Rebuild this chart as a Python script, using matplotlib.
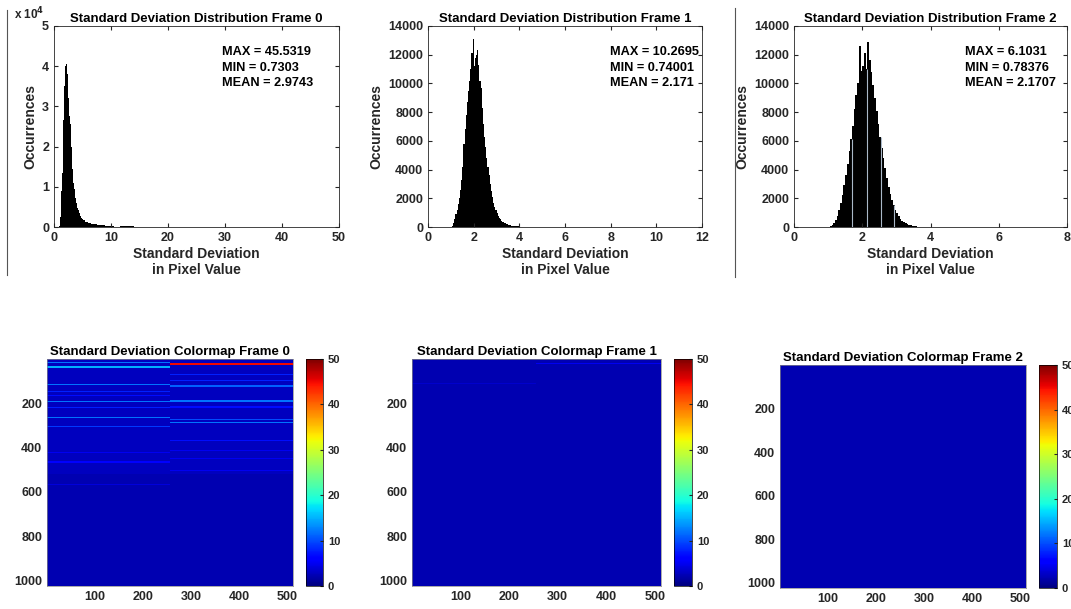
import matplotlib
matplotlib.use("Agg")
import matplotlib.pyplot as plt
import numpy as np
from matplotlib.lines import Line2D

plt.rcParams['font.family'] = ['Liberation Sans', 'DejaVu Sans']
plt.rcParams['font.weight'] = 'bold'

W, H = 1071, 609

# ---- histogram data (counts in thousands) ----
# frame 0: fine bins 0.1 wide from 0.7 to 5.0, then 0.5 wide up to 15
f0_fine_start, f0_fine_width = 0.7, 0.1
f0_fine = [0, 0, 0.2, 1.0, 2.5, 4.5, 9, 13.5, 20, 26.5, 31, 35, 38, 40, 40.5,
           40, 38, 35, 32, 29.5, 27.5, 25.5, 23, 20, 17, 14.5, 12.5, 11, 9.5,
           8.3, 7.2, 6.5, 6.0, 5.3, 4.8, 4.3, 3.9, 3.5, 3.1, 2.8, 2.5, 2.2, 2.0]
f0_tail_width = 0.5
f0_tail = [1.7, 1.3, 1.0, 0.8, 0.65, 0.55, 0.45, 0.4, 0.3, 0.25, 0.15, 0.1,
           0.05, 0.15, 0.2, 0.2, 0.2, 0.15, 0.03, 0.01]

f1_start, f1_width = 0.9, 0.05
f1 = [0, 0, 0.02, 0.1, 0.3, 0.55, 0.9, 1.2, 1.6, 2.0, 2.6, 3.3, 4.2, 5.8, 6.8,
      7.8, 8.7, 9.5, 10.2, 11.0, 12.1, 13.1, 11.2, 11.8, 12.0, 12.3, 11.3, 10.2,
      9.7, 8.3, 7.2, 6.3, 5.6, 4.8, 4.2, 3.6, 3.0, 2.5, 2.1, 1.7, 1.4, 1.15,
      0.95, 0.8, 0.65, 0.55, 0.45, 0.38, 0.32, 0.27, 0.22, 0.18, 0.15, 0.13,
      0.11, 0.09, 0.08, 0.07, 0.06, 0.05, 0.04, 0.035, 0.03, 0.025, 0.02, 0.02,
      0.015, 0.01, 0.01, 0.005]

f2_start, f2_width = 1.0, 0.05
f2 = [0.02, 0.06, 0.15, 0.3, 0.5, 0.8, 1.2, 1.7, 2.2, 2.9, 3.6, 4.4, 5.3, 6.1,
      7.0, 8.2, 9.2, 10.0, 12.6, 10.9, 11.2, 12.1, 11.0, 12.9, 11.6, 10.8, 9.9,
      9.0, 8.1, 7.2, 6.3, 5.5, 4.8, 4.1, 3.4, 2.8, 2.3, 1.9, 1.5, 1.2, 0.95,
      0.75, 0.58, 0.45, 0.34, 0.26, 0.2, 0.15, 0.11, 0.08, 0.06, 0.04, 0.03,
      0.02, 0.01, 0.005]
# empty bins that show up as thin light lines in frame 2
f2_empty = [1.69, 2.13, 2.55, 2.94]

stats = [("45.5319", "0.7303", "2.9743"),
         ("10.2695", "0.74001", "2.171"),
         ("6.1031", "0.78376", "2.1707")]

# ---- colormap data: base level and stripes (row, thickness, value) ----
img_rows, img_cols = 1024, 512
base_levels = [(0, 520, 2.8), (520, 1024, 2.2)]
f0_stripes_left = [(15, 5, 12), (33, 6, 15), (111, 5, 12), (143, 5, 8),
                   (161, 5, 7), (188, 6, 12), (218, 5, 8), (262, 6, 12),
                   (300, 5, 9), (420, 4, 5), (462, 5, 6), (563, 4, 4)]
f0_stripes_right = [(17, 9, 45), (68, 5, 8), (96, 5, 8), (119, 6, 11),
                    (187, 6, 12), (214, 5, 7), (271, 5, 10), (282, 6, 12),
                    (364, 5, 7), (410, 5, 5), (447, 5, 5), (500, 5, 5)]
f1_stripes_right = [(18, 5, 5), (70, 4, 4)]
f1_stripes_left = [(110, 4, 3.5)]


def px_box(l, t, r, b):
    return [l / W, 1 - b / H, (r - l) / W, (b - t) / H]


def build_image(stripes_left, stripes_right, base):
    img = np.full((img_rows, img_cols), 2.2)
    for r0, r1, v in base:
        img[r0:r1, :] = v
    for row, th, v in stripes_left:
        img[row:row + th, :img_cols // 2] = v
    for row, th, v in stripes_right:
        img[row:row + th, img_cols // 2:] = v
    return img


fig = plt.figure(figsize=(W / 100, H / 100), dpi=100)

hist_boxes = [(54, 26, 339, 227), (428, 26, 702, 227), (794, 26, 1067, 227)]
xlims = [50, 12, 8]
text_x = [0.59, 0.665, 0.626]

edges0 = np.concatenate([
    f0_fine_start + f0_fine_width * np.arange(len(f0_fine) + 1),
    f0_fine_start + f0_fine_width * len(f0_fine)
    + f0_tail_width * np.arange(1, len(f0_tail) + 1)])
counts0 = np.array(f0_fine + f0_tail) * 1000
edges1 = f1_start + f1_width * np.arange(len(f1) + 1)
edges2 = f2_start + f2_width * np.arange(len(f2) + 1)
hists = [(edges0, counts0), (edges1, np.array(f1) * 1000),
         (edges2, np.array(f2) * 1000)]

for i, (box, (edges, counts)) in enumerate(zip(hist_boxes, hists)):
    ax = fig.add_axes(px_box(*box))
    ax.stairs(counts, edges, fill=True, color='black', linewidth=0)
    if i == 2:
        idx = np.searchsorted(edges, f2_empty) - 1
        ax.vlines(f2_empty, 0, counts[idx], color='#aab8c8', linewidth=0.8)
    ax.set_xlim(0, xlims[i])
    ax.tick_params(direction='in', top=True, right=True, labelsize=9,
                   colors='#262626', length=3)
    for s in ax.spines.values():
        s.set_color('#262626')
        s.set_linewidth(0.6)
    if i == 0:
        ax.set_ylim(0, 50000)
        ax.set_yticks(np.arange(0, 50001, 10000))
        ax.set_yticklabels([str(k) for k in range(6)])
        fig.text(14 / W, 1 - 14 / H, r'x 10$^4$', fontsize=8.5,
                 fontweight='bold', color='#262626', va='center')
    else:
        ax.set_ylim(0, 14000)
        ax.set_yticks(np.arange(0, 14001, 2000))
    ax.set_title(f"Standard Deviation Distribution Frame {i}", fontsize=9.5,
                 fontweight='bold', pad=3)
    ax.set_xlabel("Standard Deviation\nin Pixel Value", fontsize=10,
                  fontweight='bold', color='#262626', labelpad=2,
                  linespacing=1.2)
    ax.set_ylabel("Occurrences", fontsize=10, fontweight='bold',
                  color='#262626', labelpad=3)
    mx, mn, me = stats[i]
    ax.text(text_x[i], 0.9, f"MAX = {mx}\nMIN = {mn}\nMEAN = {me}",
            transform=ax.transAxes, fontsize=9.2, fontweight='bold',
            va='top', ha='left', linespacing=1.4)

# separator lines from the screenshot
fig.add_artist(Line2D([7 / W, 7 / W], [1 - 10 / H, 1 - 275 / H],
                      color='#555555', linewidth=0.8))
fig.add_artist(Line2D([735 / W, 735 / W], [1 - 8 / H, 1 - 277 / H],
                      color='#555555', linewidth=0.8))

img_boxes = [(47, 359, 293, 586), (412, 359, 661, 586), (780, 365, 1026, 588)]
cb_boxes = [(306, 359, 323, 586), (674, 359, 692, 586), (1039, 365, 1057, 588)]
images = [build_image(f0_stripes_left, f0_stripes_right, base_levels),
          build_image(f1_stripes_left, f1_stripes_right, [(0, 1024, 2.3)]),
          build_image([], [], [(0, 1024, 2.2)])]

for i in range(3):
    ax = fig.add_axes(px_box(*img_boxes[i]))
    im = ax.imshow(images[i], cmap='jet', vmin=0, vmax=50, aspect='auto',
                   interpolation='nearest',
                   extent=(0.5, img_cols + 0.5, img_rows + 0.5, 0.5))
    ax.set_xticks([100, 200, 300, 400, 500])
    ax.set_yticks([200, 400, 600, 800, 1000])
    ax.tick_params(direction='in', length=0, labelsize=9, colors='#262626')
    for s in ax.spines.values():
        s.set_color('#888888')
        s.set_linewidth(0.5)
    ax.set_title(f"Standard Deviation Colormap Frame {i}", fontsize=9.5,
                 fontweight='bold', pad=3)
    cax = fig.add_axes(px_box(*cb_boxes[i]))
    cb = fig.colorbar(im, cax=cax, ticks=[0, 10, 20, 30, 40, 50])
    cb.outline.set_linewidth(0.5)
    cax.tick_params(direction='in', length=2, labelsize=8, colors='#262626')

fig.savefig("out.png", dpi=100)
